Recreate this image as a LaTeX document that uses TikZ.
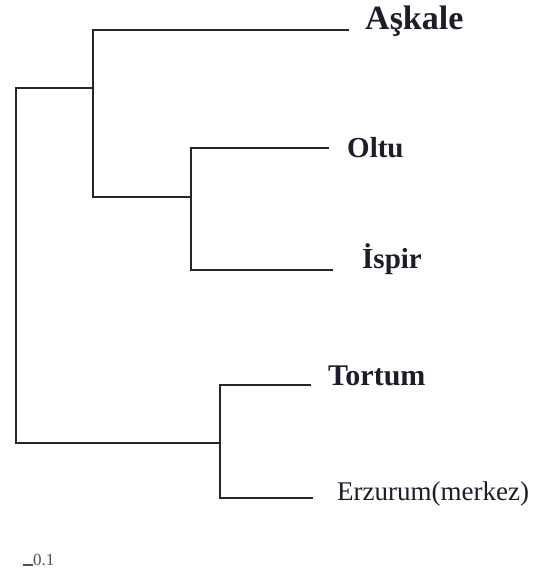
\documentclass[tikz,border=0pt]{standalone}
\usepackage{fontspec}
\setmainfont{Liberation Serif}
\definecolor{edge}{HTML}{262626}
\definecolor{labelink}{HTML}{1C1C2A}
\definecolor{scaleink}{HTML}{505050}
\begin{document}
\begin{tikzpicture}[x=1pt,y=-1pt,
  branch/.style={draw=edge, line width=2.4pt, line cap=rect},
  leaf/.style={anchor=base west, inner sep=0pt, text=labelink},
  bigleaf/.style={leaf, font=\bfseries\fontsize{#1}{#1}\selectfont},
  plainleaf/.style={leaf, font=\fontsize{#1}{#1}\selectfont},
]
\useasboundingbox (0,0) rectangle (534,573);

% internal nodes of the tree
\coordinate (rt) at (16,88);
\coordinate (rb) at (16,443);
\coordinate (am) at (93,88);
\coordinate (at) at (93,30);
\coordinate (ab) at (93,197);
\coordinate (cm) at (191,197);
\coordinate (ct) at (191,148);
\coordinate (cb) at (191,270);
\coordinate (bm) at (220,443);
\coordinate (bt) at (220,385);
\coordinate (bb) at (220,498);

% tips of the terminal branches
\coordinate (askaleEnd) at (348,30);
\coordinate (oltuEnd) at (328,148);
\coordinate (ispirEnd) at (332,270);
\coordinate (tortumEnd) at (310,385);
\coordinate (erzEnd) at (312,498);

% taxon labels
\node[bigleaf=34] (askale) at (365,29) {Aşkale};
\node[bigleaf=29] (oltu) at (347,157) {Oltu};
\node[bigleaf=29] (ispir) at (362,268) {İspir};
\node[bigleaf=30] (tortum) at (328,385) {Tortum};
\node[plainleaf=27] (erz) at (337,500) {Erzurum(merkez)};

% branches
\draw[branch] (rt) -- (rb);
\draw[branch] (rt) -- (am);
\draw[branch] (at) -- (ab);
\draw[branch] (at) -- (askaleEnd);
\draw[branch] (ab) -- (cm);
\draw[branch] (ct) -- (cb);
\draw[branch] (ct) -- (oltuEnd);
\draw[branch] (cb) -- (ispirEnd);
\draw[branch] (rb) -- (bm);
\draw[branch] (bt) -- (bb);
\draw[branch] (bt) -- (tortumEnd);
\draw[branch] (bb) -- (erzEnd);

% scale bar
\coordinate (sbL) at (23,565);
\node[anchor=base west, inner sep=0pt, text=scaleink, font=\fontsize{17}{17}\selectfont] (sbLabel) at (33,565) {0.1};
\draw[draw=scaleink, line width=2pt] (sbL) -- (sbLabel.base west);
\end{tikzpicture}
\end{document}
